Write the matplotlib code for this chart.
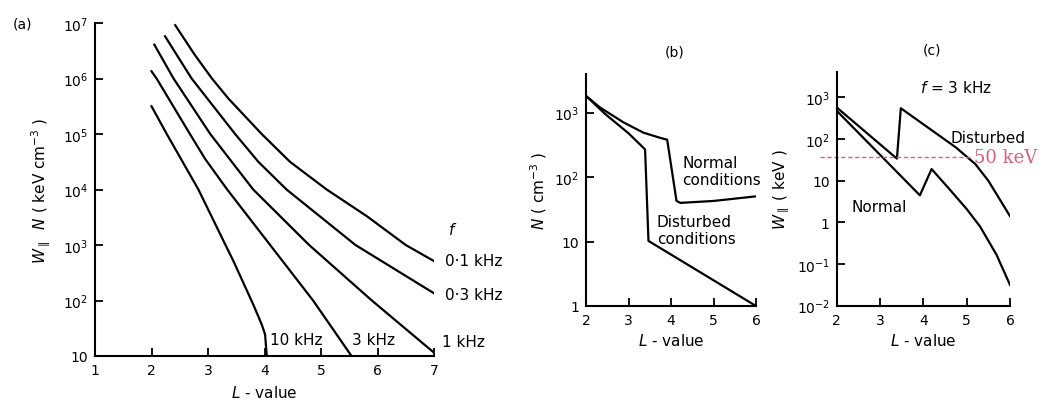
import numpy as np
import matplotlib.pyplot as plt

# ---- panel (a): W_par * N versus L for several wave frequencies ----
# (L value, log10 of W N)
L_01 = [2.42, 2.77, 3.07, 3.36, 3.95, 4.45, 5.10, 5.81, 6.50, 7.0]
y_01 = [6.96, 6.42, 6.0, 5.64, 5.0, 4.50, 4.0, 3.52, 3.0, 2.71]
L_03 = [2.24, 2.71, 3.48, 3.89, 4.39, 5.61, 7.0]
y_03 = [6.76, 6.0, 5.0, 4.50, 4.0, 3.0, 2.13]
L_1 = [2.05, 2.39, 3.04, 3.42, 3.80, 4.79, 5.90, 7.0]
y_1 = [6.61, 6.0, 5.0, 4.50, 4.0, 3.0, 2.0, 1.06]
L_3 = [2.0, 2.09, 2.68, 2.95, 3.34, 4.10, 4.86, 5.54]
y_3 = [6.13, 6.0, 5.0, 4.55, 4.0, 3.0, 2.0, 1.0]
L_10 = [2.0, 2.27, 2.83, 3.31, 3.45, 3.80, 3.95, 4.01, 4.04]
y_10 = [5.50, 5.0, 4.0, 3.0, 2.71, 1.93, 1.57, 1.39, 1.0]

# ---- panel (b): cold plasma density (log10 N) ----
Lb_norm = [2.0, 2.33, 2.88, 3.35, 3.74, 3.91, 4.13, 4.22, 5.0, 5.98]
Nb_norm = [3.26, 3.08, 2.85, 2.69, 2.61, 2.58, 1.63, 1.60, 1.63, 1.70]
Lb_dist = [2.0, 2.45, 3.0, 3.39, 3.47, 6.0]
Nb_dist = [3.26, 2.98, 2.68, 2.43, 1.01, 0.0]

# ---- panel (c): resonant energy at f = 3 kHz (log10 W) ----
Lc_norm = [2.0, 3.92, 4.19, 4.6, 5.0, 5.31, 5.69, 6.0]
Wc_norm = [2.68, 0.65, 1.28, 0.80, 0.32, -0.10, -0.78, -1.50]
Lc_dist = [2.0, 3.39, 3.48, 4.75, 5.2, 5.5, 6.0]
Wc_dist = [2.76, 1.53, 2.74, 1.80, 1.40, 1.0, 0.15]
W_50 = 38

a_ticks = [10, 1e2, 1e3, 1e4, 1e5, 1e6, 1e7]
a_labels = ['10', '$10^2$', '$10^3$', '$10^4$', '$10^5$', '$10^6$', '$10^7$']
b_ticks = [1, 10, 1e2, 1e3]
b_labels = ['1', '10', '$10^2$', '$10^3$']
c_ticks = [1e-2, 1e-1, 1, 10, 1e2, 1e3]
c_labels = ['$10^{-2}$', '$10^{-1}$', '1', '10', '$10^2$', '$10^3$']

plt.rcParams['font.family'] = 'DejaVu Sans'
plt.rcParams['font.size'] = 10
plt.rcParams['mathtext.fontset'] = 'dejavusans'
plt.rcParams['lines.solid_joinstyle'] = 'round'

fig = plt.figure(figsize=(10.43, 4.02), dpi=100)

ax_a = fig.add_axes([95 / 1043, 45 / 402, 339 / 1043, 333 / 402])
ax_b = fig.add_axes([586 / 1043, 95 / 402, 170 / 1043, 232 / 402])
ax_c = fig.add_axes([836.7 / 1043, 95.3 / 402, 173.3 / 1043, 233.7 / 402])

for ax in (ax_a, ax_b, ax_c):
    ax.set_yscale('log')
    for s in ('top', 'right'):
        ax.spines[s].set_visible(False)
    for s in ('left', 'bottom'):
        ax.spines[s].set_linewidth(1.5)
    ax.tick_params(direction='in', length=6, width=1.3, pad=5, labelsize=10)

lw = 1.6
# (a)
for xs, ys in [(L_01, y_01), (L_03, y_03), (L_1, y_1), (L_3, y_3), (L_10, y_10)]:
    ax_a.plot(xs, 10 ** np.array(ys), color='black', lw=lw)
ax_a.set_xlim(1, 7)
ax_a.set_ylim(10, 1e7)
ax_a.set_xticks(range(1, 8))
ax_a.set_yticks(a_ticks)
ax_a.set_yticklabels(a_labels)
ax_a.minorticks_off()
ax_a.set_xlabel('$L$ - value', fontsize=11)
ax_a.set_ylabel(r'$W_{\parallel}\ \ N$ ( keV cm$^{-3}$ )', fontsize=11)
ax_a.yaxis.set_label_coords(-0.125, 0.5)
ax_a.xaxis.set_label_coords(0.5, -0.085)
ax_a.text(7.25, 1950, '$f$', fontsize=11, va='center')
ax_a.text(7.19, 515, '0·1 kHz', fontsize=11, va='center')
ax_a.text(7.19, 126, '0·3 kHz', fontsize=11, va='center')
ax_a.text(7.14, 18, '1 kHz', fontsize=11, va='center')
ax_a.text(4.1, 20, '10 kHz', fontsize=11, va='center')
ax_a.text(5.55, 20, '3 kHz', fontsize=11, va='center')

# (b)
ax_b.plot(Lb_norm, 10 ** np.array(Nb_norm), color='black', lw=lw)
ax_b.plot(Lb_dist, 10 ** np.array(Nb_dist), color='black', lw=lw)
ax_b.set_xlim(2, 6)
ax_b.set_ylim(1, 3980)
ax_b.set_xticks(range(2, 7))
ax_b.set_yticks(b_ticks)
ax_b.set_yticklabels(b_labels)
ax_b.minorticks_off()
ax_b.set_xlabel('$L$ - value', fontsize=11)
ax_b.set_ylabel('$N$ ( cm$^{-3}$ )', fontsize=11)
ax_b.yaxis.set_label_coords(-0.22, 0.5)
ax_b.text(4.26, 124, 'Normal\nconditions', fontsize=11, va='center',
          linespacing=1.2)
ax_b.text(3.67, 15, 'Disturbed\nconditions', fontsize=11, va='center',
          linespacing=1.2)

# (c)
ax_c.plot(Lc_norm, 10 ** np.array(Wc_norm), color='black', lw=lw)
ax_c.plot(Lc_dist, 10 ** np.array(Wc_dist), color='black', lw=lw)
ax_c.set_xlim(2, 6)
ax_c.set_ylim(1e-2, 10 ** 3.61)
ax_c.set_xticks(range(2, 7))
ax_c.set_yticks(c_ticks)
ax_c.set_yticklabels(c_labels)
ax_c.minorticks_off()
ax_c.set_xlabel('$L$ - value', fontsize=11)
ax_c.set_ylabel(r'$W_{\parallel}$ ( keV )', fontsize=11)
ax_c.yaxis.set_label_coords(-0.26, 0.5)
ax_c.plot([1.61, 5.15], [W_50, W_50], color='#d9607e', lw=1.0,
          ls=(0, (3, 2)), clip_on=False)
ax_c.text(5.17, W_50, '50 keV', fontsize=13, family='DejaVu Serif',
          color='#d9607e', va='center')
ax_c.text(3.92, 1770, '$f$ = 3 kHz', fontsize=11, va='center')
ax_c.text(4.62, 112, 'Disturbed', fontsize=11, va='center')
ax_c.text(2.35, 2.4, 'Normal', fontsize=11, va='center')

fig.text(13 / 1043, 1 - 25 / 402, '(a)', fontsize=10, va='center')
fig.text(675 / 1043, 1 - 52 / 402, '(b)', fontsize=10, va='center', ha='center')
fig.text(932 / 1043, 1 - 50 / 402, '(c)', fontsize=10, va='center', ha='center')

fig.savefig('out.png', dpi=100)
